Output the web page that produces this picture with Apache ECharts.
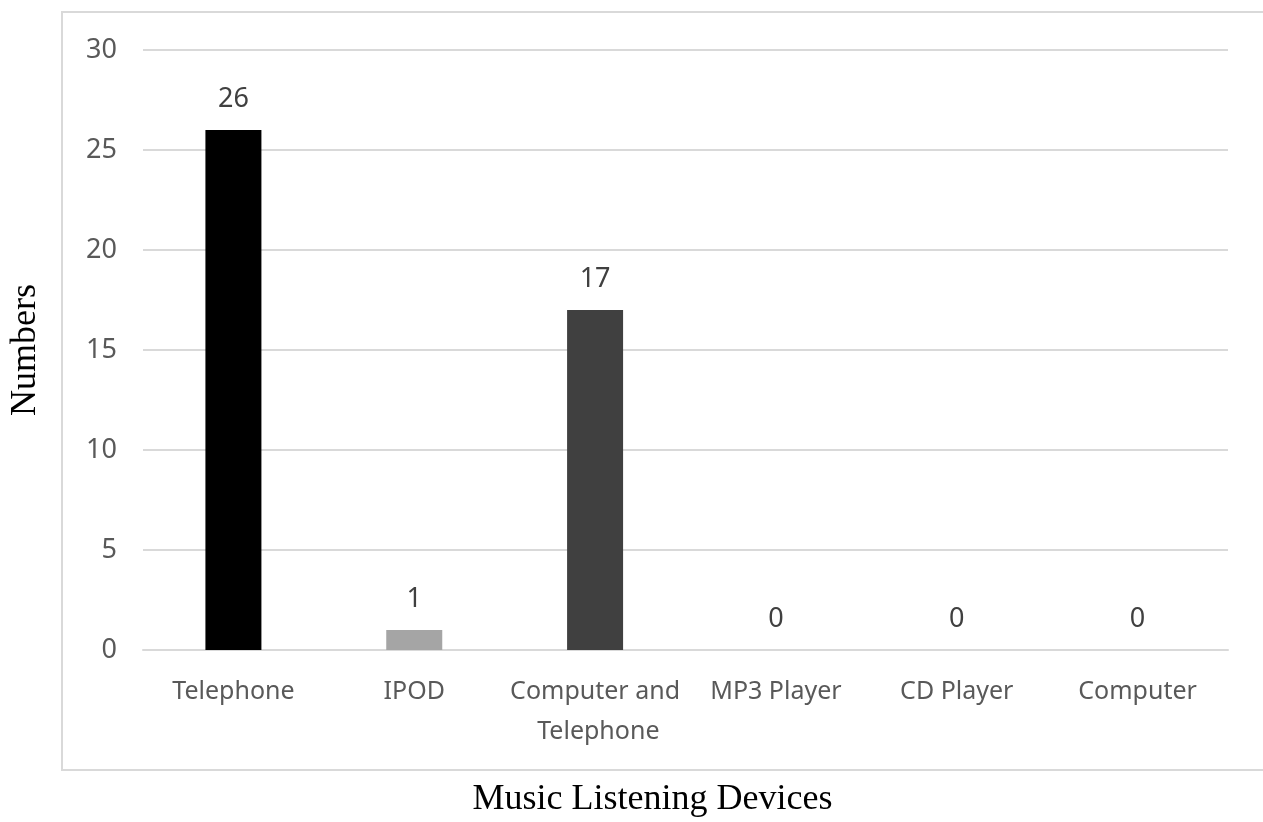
<!DOCTYPE html>
<html>
<head>
<meta charset="utf-8">
<title>Music Listening Devices</title>
<script src="https://cdn.jsdelivr.net/npm/echarts@6/dist/echarts.min.js"></script>
<style>
  html, body { margin: 0; padding: 0; background: #ffffff; }
  #chart { width: 1263px; height: 822px; }
</style>
</head>
<body>
<div id="chart"></div>
<script>
// Devices used for listening to music, and how many respondents named each
const devices = ['Telephone', 'IPOD', 'Computer and Telephone', 'MP3 Player', 'CD Player', 'Computer'];
const counts = [26, 1, 17, 0, 0, 0];
const barColors = ['#000000', '#a5a5a5', '#404040', '#7f7f7f', '#7f7f7f', '#7f7f7f'];
const yTicks = { min: 0, max: 30, interval: 5 };

const labelFont = '"Noto Sans", sans-serif';
const titleFont = '"Liberation Serif", "DejaVu Serif", serif';

const chart = echarts.init(document.getElementById('chart'), null, { renderer: 'canvas' });

chart.setOption({
  backgroundColor: '#ffffff',
  animation: false,
  graphic: [{
    type: 'rect',
    shape: { x: 62, y: 12, width: 1220, height: 758 },
    style: { fill: 'none', stroke: '#d9d9d9', lineWidth: 2 },
    silent: true,
    z: -1
  }],
  grid: { left: 143, right: 35, top: 50, bottom: 172, containLabel: false, outerBoundsMode: 'none' },
  xAxis: {
    type: 'category',
    data: devices,
    name: 'Music Listening Devices',
    nameLocation: 'middle',
    nameGap: 132,
    nameTextStyle: { fontFamily: titleFont, fontSize: 36, color: '#000000', padding: [0, 66, 0, 0] },
    axisLine: { show: true, lineStyle: { color: '#d9d9d9', width: 2 } },
    axisTick: { show: false },
    axisLabel: {
      interval: 0,
      margin: 22,
      fontFamily: labelFont,
      fontSize: 25,
      color: '#595959',
      lineHeight: 40,
      width: 175,
      overflow: 'break'
    }
  },
  yAxis: {
    type: 'value',
    min: yTicks.min,
    max: yTicks.max,
    interval: yTicks.interval,
    name: 'Numbers',
    nameLocation: 'middle',
    nameGap: 99,
    nameTextStyle: { fontFamily: titleFont, fontSize: 36, color: '#000000' },
    axisLine: { show: false },
    axisTick: { show: false },
    axisLabel: {
      margin: 26,
      fontFamily: labelFont,
      fontSize: 27,
      color: '#595959'
    },
    splitLine: { lineStyle: { color: '#d9d9d9', width: 2 } }
  },
  series: [{
    type: 'bar',
    data: counts.map((v, i) => ({ value: v, itemStyle: { color: barColors[i] } })),
    barWidth: 56,
    label: {
      show: true,
      position: 'top',
      distance: 17,
      fontFamily: labelFont,
      fontSize: 27,
      color: '#404040'
    }
  }]
});
</script>
</body>
</html>
